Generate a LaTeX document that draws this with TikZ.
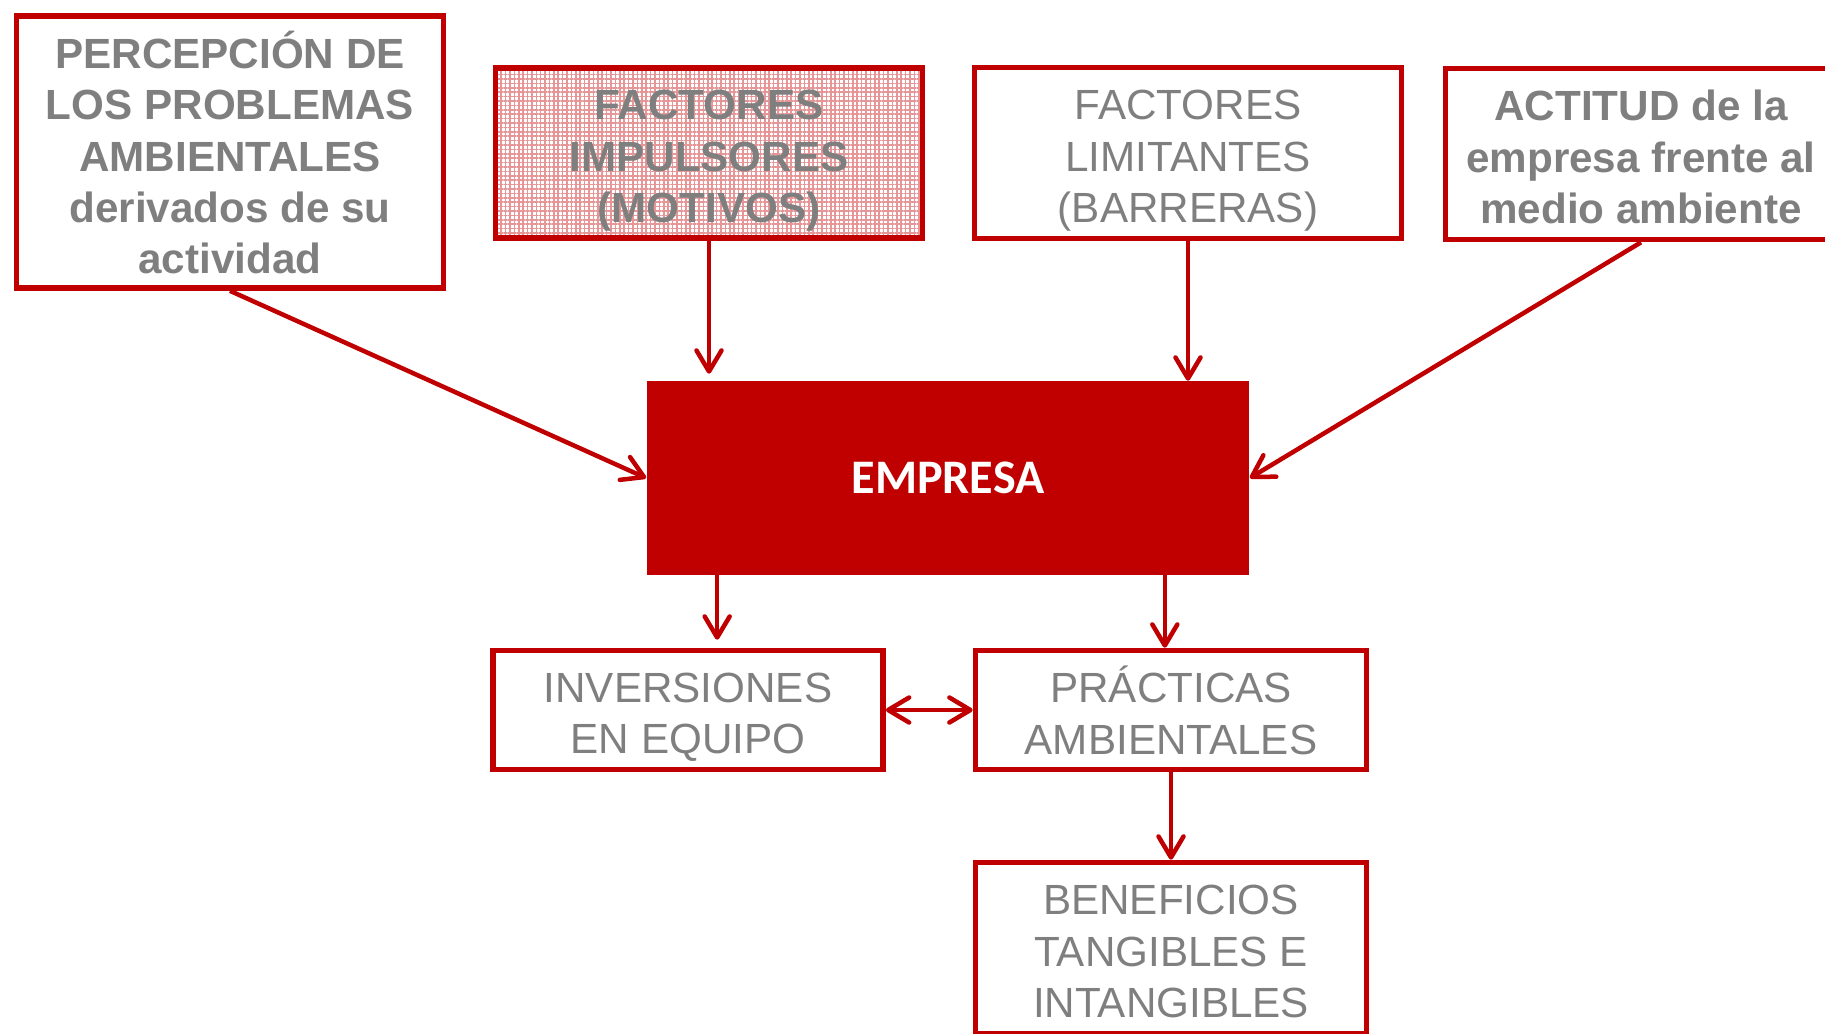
\documentclass[tikz,border=0pt]{standalone}
\usepackage{fontspec}
\setmainfont{Liberation Sans}
\newfontfamily\calibrifont{Carlito}
\usetikzlibrary{arrows.meta,patterns.meta}
\definecolor{rojo}{HTML}{C00000}
\definecolor{gris}{HTML}{7F7F7F}
\definecolor{rosa}{HTML}{F7DCDC}
\definecolor{rosaosc}{HTML}{E69696}
% lines of a box, set a little below the centre
\newcommand{\lineas}[1]{\raisebox{-0.08cm}[\height][\depth]{\begin{tabular}{@{}c@{}}#1\end{tabular}}}

\begin{document}
\begin{tikzpicture}[x=0.01cm,y=-0.01cm,
    caja/.style={draw=rojo,line width=0.055cm,fill=white,text=gris,
      font=\fontsize{12pt}{14.6pt}\selectfont,inner sep=0pt},
    negrita/.style={font=\fontsize{12pt}{14.6pt}\selectfont\bfseries},
    punta/.tip={Straight Barb[length=0.21cm,width=0.25cm,round]},
    flecha/.style={draw=rojo,line width=0.045cm,-punta}]

                    % Define frame
                    \useasboundingbox (0,0) rectangle (1825,1033);
                    \clip (0,0) rectangle (1825,1033);

                    % Top boxes
                    \node[caja,negrita,minimum width=4.27cm,minimum height=2.72cm] (percepcion) at (230,152)
                        {\lineas{PERCEPCIÓN DE\\LOS PROBLEMAS\\AMBIENTALES\\derivados de su\\actividad}};
                    \node[caja,negrita,minimum width=4.27cm,minimum height=1.70cm,
                        fill=rosa,pattern={Hatch[angle=0,distance=1.25pt,line width=0.45pt]},
                        pattern color=rosaosc] (impulsores) at (709,153)
                        {\lineas{FACTORES\\IMPULSORES\\(MOTIVOS)}};
                    \node[caja,minimum width=4.27cm,minimum height=1.71cm] (limitantes) at (1188,153)
                        {\lineas{FACTORES\\LIMITANTES\\(BARRERAS)}};
                    \node[caja,negrita,minimum width=3.91cm,minimum height=1.71cm] (actitud) at (1641,154)
                        {\lineas{ACTITUD de la\\empresa frente al\\medio ambiente}};

                    % Central box
                    \node[fill=rojo,text=white,minimum width=6.02cm,minimum height=1.93cm,
                        font=\calibrifont\bfseries\fontsize{13.7pt}{16pt}\selectfont] (empresa) at (948,478)
                        {EMPRESA};

                    % Bottom boxes
                    \node[caja,minimum width=3.90cm,minimum height=1.19cm] (inversiones) at (688,710)
                        {\lineas{INVERSIONES\\EN EQUIPO}};
                    \node[caja,minimum width=3.91cm,minimum height=1.19cm] (practicas) at (1171,710)
                        {\lineas{PRÁCTICAS\\AMBIENTALES}};
                    \node[caja,minimum width=3.91cm,minimum height=1.71cm] (beneficios) at (1171,948)
                        {\lineas{BENEFICIOS\\TANGIBLES E\\INTANGIBLES}};

                    % Draw arrows
                    \draw[flecha] (percepcion.south) -- (empresa.west);
                    \draw[flecha,shorten >=0.07cm] (impulsores.south) -- (impulsores.south |- empresa.north);
                    \draw[flecha] (limitantes.south) -- (limitantes.south |- empresa.north);
                    \draw[flecha] (actitud.south) -- (empresa.east);
                    \coordinate (salida1) at ([xshift=0.71cm]empresa.south west);
                    \coordinate (salida2) at ([xshift=-0.85cm]empresa.south east);
                    \draw[flecha,shorten >=0.08cm] (salida1) -- (salida1 |- inversiones.north);
                    \draw[flecha] (salida2) -- (salida2 |- practicas.north);
                    \draw[flecha,punta-punta] (inversiones.east) -- (practicas.west);
                    \draw[flecha] (practicas.south) -- (beneficios.north);

                \end{tikzpicture}
\end{document}
